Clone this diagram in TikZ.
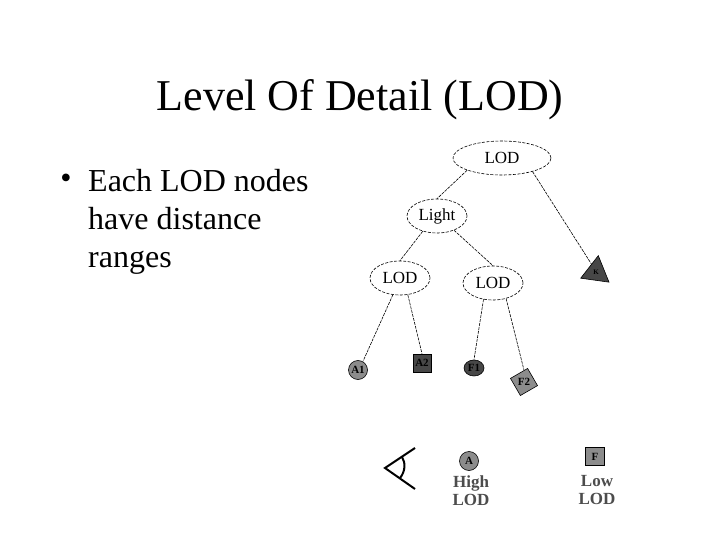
\documentclass[tikz,border=0pt]{standalone}
\usepackage{fontspec}
\setmainfont{Liberation Serif}
\usetikzlibrary{positioning}
\usetikzlibrary{shapes.geometric}

\tikzset{
  lod/.style={ellipse, draw, dash pattern=on 3pt off 1.5pt, line width=0.6pt, inner sep=0pt, minimum width=60pt, minimum height=34pt, font=\fontsize{17}{20}\selectfont},
  link/.style={draw, dash pattern=on 3pt off 1pt, line width=0.6pt},
  leaf/.style={draw, line width=0.6pt, inner sep=0pt, font=\fontsize{11}{12}\selectfont\bfseries},
  lightleaf/.style={leaf, fill=black!45},
  darkleaf/.style={leaf, fill=black!72},
  caption/.style={align=left, inner sep=0pt, text=black!70, font=\fontsize{17}{17}\selectfont\bfseries}
}

\begin{document}
\begin{tikzpicture}[x=1pt, y=-1pt, on grid]
    \useasboundingbox (0,0) rectangle (720,540);

    \node [font=\fontsize{44}{52}\selectfont] (title) at (360,100) {Level Of Detail (LOD)};
    \node (bullet) [inner sep=0pt, font=\fontsize{32}{38}\selectfont] at (66,181) {\textbullet};
    \node (ranges) [anchor=base west, align=left, inner sep=0pt, font=\fontsize{32}{38}\selectfont] at (88,267) {Each LOD nodes\\ have distance\\ ranges};

    \node [lod, minimum width=98pt] (root) at (502,158) {LOD};
    \node [lod, below left=58pt and 65pt of root] (light) {Light};
    \node [lod, below left=62pt and 37pt of light] (l1) {LOD};
    \node [lod, below right=67pt and 56pt of light] (l2) {LOD};
    \node [darkleaf, regular polygon, regular polygon sides=3, shape border rotate=-8, minimum size=33pt, below right=114pt and 94pt of root] (k) {\fontsize{7}{8}\selectfont K};

    \node [lightleaf, circle, minimum size=19pt, below left=92pt and 42pt of l1] (a1) {A1};
    \node [darkleaf, minimum size=18pt, below right=85pt and 22pt of l1] (a2) {A2};
    \node [darkleaf, ellipse, minimum width=20pt, minimum height=16pt, below left=85pt and 19pt of l2] (f1) {F1};
    \node [lightleaf, regular polygon, regular polygon sides=4, shape border rotate=30, minimum size=28pt, below right=99pt and 31pt of l2] (f2) {F2};

    \draw [link] (root.south west) -- (light.north);
    \draw [link] (root.-24) -- (k.120);
    \draw [link] (light.-133) -- (l1.north);
    \draw [link] (light.-40) -- (l2.north);
    \draw [link] (l1.-113) -- (a1.60);
    \draw [link] (l1.-65) -- (a2.north);
    \draw [link] (l2.-120) -- (f1.north);
    \draw [link] (l2.-50) -- (f2.north);

    % eye
    \coordinate (tip) at (385,468);
    \coordinate (top) at (415,448);
    \coordinate (bot) at (415,489);
    \coordinate (lid1) at (402,457);
    \coordinate (lid2) at (400,478);
    \draw [line width=2pt] (top) -- (tip) -- (bot);
    \draw [line width=2pt] (lid1) .. controls (406,463) and (405,472) .. (lid2);

    \node [lightleaf, circle, minimum size=19pt] (a) at (469,461) {A};
    \node [caption, below=22pt of a.center, xshift=2pt, anchor=center] (high) {High};
    \node [caption, below=17pt of high.center, anchor=center] (highlod) {LOD};

    \node [lightleaf, minimum size=18.5pt] (f) at (595,456.5) {F};
    \node [caption, below=25pt of f.center, xshift=2pt, anchor=center] (low) {Low};
    \node [caption, below=17pt of low.center, anchor=center] (lowlod) {LOD};
\end{tikzpicture}
\end{document}
